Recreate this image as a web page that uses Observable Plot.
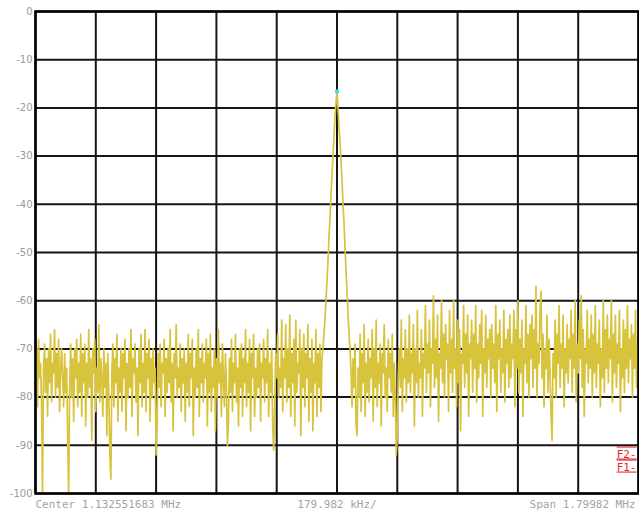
<!DOCTYPE html>
<html>
<head>
<meta charset="utf-8">
<script src="https://cdn.jsdelivr.net/npm/d3@7"></script>
<script src="https://cdn.jsdelivr.net/npm/@observablehq/plot@0.6"></script>
<style>
  html, body { margin: 0; padding: 0; background: #fff; }
  .marker text { text-decoration: overline underline; }
</style>
</head>
<body>
<div id="chart"></div>
<script>
// Spectrum trace levels (dB), bins 3 kHz apart
const leftNoise = [
  -76, -72, -78, -70, -75, -73, -79, -71, -77, -74, -80, -72, -75, -78, -70, -82, -68, -76, -73, -81,
  -100, -74, -69, -79, -72, -84, -70, -77, -67, -81, -73, -75, -66, -80, -71, -78, -68, -83, -74, -70,
  -76, -82, -71, -79, -74, -88, -100, -78, -69, -80, -72, -85, -70, -76, -68, -82, -73, -79, -67, -84,
  -71, -77, -69, -86, -73, -80, -66, -78, -72, -89, -70, -75, -68, -83, -74, -79, -65, -81, -72, -76,
  -84, -70, -78, -73, -88, -71, -80, -92, -97, -75, -69, -82, -72, -77, -67, -85, -74, -79, -70, -83,
  -71, -76, -68, -87, -73, -80, -70, -78, -66, -84, -72, -75, -69, -81, -74, -88, -70, -77, -67, -82,
  -73, -79, -66, -83, -71, -76, -68, -85, -72, -80, -70, -77, -74, -92, -86, -71, -78, -69, -82, -73,
  -75, -68, -84, -72, -79, -70, -77, -66, -81, -73, -87, -71, -76, -65, -80, -74, -78, -69, -83, -72,
  -77, -70, -85, -73, -79, -67, -82, -71, -76, -68, -88, -74, -80, -70, -78, -66, -84, -72, -77, -69,
  -81, -73, -76, -68, -86, -71, -79, -67, -83, -74, -78, -70, -87, -72, -80, -66, -77, -73, -84, -69,
  -76, -82, -71, -78, -90, -85, -72, -79, -68, -83, -73, -77, -67, -81, -74, -86, -70, -78, -69, -84,
  -72, -77, -66, -82, -73, -79, -68, -87, -71, -76, -67, -84, -74, -80, -70, -78, -69, -85, -73, -76,
  -68, -81, -72, -77, -66, -84, -73, -79, -70, -86, -91, -82, -71, -76, -67, -80, -74, -78, -64, -83,
  -72, -76, -65, -81, -70, -78, -63, -84, -71, -77, -68, -86, -64, -79, -73, -75, -66, -88, -70, -78,
  -67, -82, -71, -76, -65, -85, -72, -79, -68, -87, -73, -77, -66, -84, -71, -78, -69, -83, -72, -70
];
const peakShape = [-67, -64, -60, -56, -52, -47, -43, -38, -34, -30, -26, -22, -19, -16.6,
                   -20, -24, -27, -31, -35, -40, -44, -49, -54, -58, -63, -67];
const rightNoise = [
  -70, -75, -82, -72, -78, -69, -86, -88, -74, -80, -67, -83, -71, -77, -65, -84, -73, -79, -68, -81,
  -72, -76, -66, -85, -70, -78, -64, -82, -73, -77, -69, -86, -71, -75, -65, -80, -74, -83, -68, -76,
  -71, -79, -67, -84, -73, -80, -92, -88, -75, -70, -78, -64, -83, -72, -76, -66, -81, -70, -77, -63,
  -79, -71, -75, -65, -86, -70, -77, -62, -80, -73, -76, -66, -84, -71, -74, -61, -79, -69, -75, -64,
  -82, -70, -73, -59, -78, -68, -76, -63, -85, -71, -74, -60, -77, -67, -80, -65, -72, -69, -83, -62,
  -75, -68, -79, -60, -74, -70, -82, -64, -77, -66, -87, -71, -73, -61, -78, -67, -75, -63, -84, -69,
  -72, -64, -79, -67, -74, -61, -81, -69, -76, -65, -73, -62, -84, -70, -75, -63, -78, -68, -72, -66,
  -80, -65, -74, -69, -77, -61, -83, -67, -72, -64, -79, -70, -75, -62, -81, -68, -73, -66, -78, -63,
  -76, -69, -72, -62, -82, -66, -74, -60, -79, -68, -75, -64, -84, -70, -73, -61, -77, -67, -80, -65,
  -72, -63, -78, -66, -74, -57, -80, -69, -73, -62, -58, -76, -67, -82, -70, -74, -63, -79, -68, -75,
  -84, -89, -71, -76, -64, -80, -67, -73, -61, -78, -69, -74, -63, -82, -70, -75, -65, -77, -68, -72,
  -62, -79, -67, -74, -60, -81, -69, -75, -64, -72, -59, -78, -66, -84, -70, -73, -62, -77, -68, -74,
  -63, -80, -67, -75, -61, -78, -69, -73, -64, -82, -70, -76, -60, -79, -66, -74, -63, -77, -68, -72,
  -60, -81, -67, -75, -63, -78, -69, -73, -62, -83, -70, -76, -64, -79, -66, -74, -61, -77, -68, -72,
  -65, -80, -67, -74, -62, -78, -69, -75, -63, -77, -70, -73, -66, -79, -68, -74, -64, -76, -69, -72
];
const binWidthKHz = 3;
const peakLevel = -16.6;
const xTicks = [-900, -720, -540, -360, -180, 0, 180, 360, 540, 720, 900]; // kHz offset from centre
const yTicks = [0, -10, -20, -30, -40, -50, -60, -70, -80, -90, -100];
const centerLabel = "Center 1.132551683 MHz";
const divLabel = "179.982 kHz/";
const spanLabel = "Span 1.79982 MHz";
const markerTop = "F2-";
const markerBottom = "F1-";

const levels = leftNoise.concat(peakShape, rightNoise);
const peakIndex = leftNoise.length + peakShape.indexOf(peakLevel);
const trace = levels.map((v, i) => ({f: (i - peakIndex) * binWidthKHz, dB: v}));

const mono = "'DejaVu Sans Mono', 'Liberation Mono', monospace";
const labelGrey = "#a3a3a3";

const chart = Plot.plot({
  width: 639,
  height: 512,
  marginLeft: 35,
  marginRight: 1,
  marginTop: 11,
  marginBottom: 19,
  style: {background: "#fff", fontFamily: "'DejaVu Sans', sans-serif"},
  x: {domain: [-900, 900], axis: null},
  y: {domain: [-100, 0], axis: null},
  marks: [
    Plot.gridX(xTicks, {stroke: "#151515", strokeOpacity: 1, strokeWidth: 2}),
    Plot.gridY(yTicks, {stroke: "#151515", strokeOpacity: 1, strokeWidth: 2}),
    Plot.line(trace, {x: "f", y: "dB", stroke: "#d8c33c", strokeWidth: 1.7, clip: true}),
    Plot.dot([trace[peakIndex]], {x: "f", y: "dB", r: 2.2, fill: "#35e0e8", stroke: null}),
    Plot.frame({stroke: "#000", strokeWidth: 2.5}),
    Plot.axisY(yTicks, {label: null, tickSize: 0, tickPadding: 3, tickFormat: d => String(d), fill: "#9a9a9a", fontSize: 10}),
    Plot.text([centerLabel], {text: d => d, frameAnchor: "bottom-left", textAnchor: "start", dy: 14, fill: labelGrey, fontSize: 11, fontFamily: mono, style: {letterSpacing: "1.6px"}}),
    Plot.text([divLabel], {text: d => d, frameAnchor: "bottom", textAnchor: "middle", dy: 14, fill: labelGrey, fontSize: 11, fontFamily: mono, style: {letterSpacing: "1.6px"}}),
    Plot.text([spanLabel], {text: d => d, frameAnchor: "bottom-right", textAnchor: "end", dy: 14, dx: -3, fill: labelGrey, fontSize: 11, fontFamily: mono, style: {letterSpacing: "1.6px"}}),
    Plot.text([markerTop], {text: d => d, frameAnchor: "bottom-right", textAnchor: "end", dx: -2, dy: -36, fill: "#e8282a", fontSize: 11, fontFamily: mono, className: "marker"}),
    Plot.text([markerBottom], {text: d => d, frameAnchor: "bottom-right", textAnchor: "end", dx: -2, dy: -23, fill: "#e8282a", fontSize: 11, fontFamily: mono, className: "marker"})
  ]
});
document.getElementById("chart").appendChild(chart);
</script>
</body>
</html>
